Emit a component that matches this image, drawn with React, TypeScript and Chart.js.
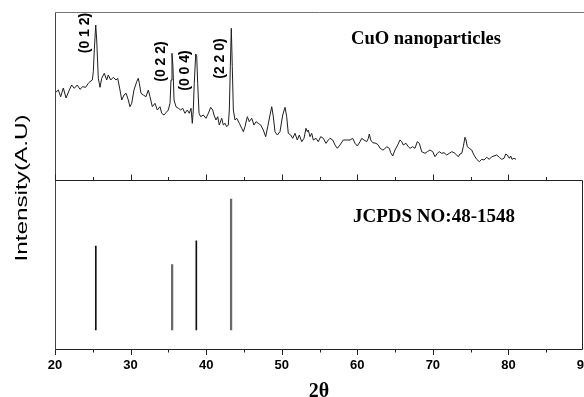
import React, { useEffect, useRef } from 'react';
import { Chart, registerables } from 'chart.js';

Chart.register(...registerables);

// Measured XRD pattern (2θ in degrees, intensity in arbitrary units)
const twoTheta = [
  20.0, 20.44, 20.75, 21.1, 21.46, 21.89, 22.21, 22.55, 22.95, 23.31, 23.67, 24.06, 24.41, 24.63, 24.94,
  25.07, 25.2, 25.39, 25.52, 25.73, 25.96, 26.18, 26.52, 26.84, 27.05, 27.37, 27.72, 28.07, 28.3, 28.6,
  28.83, 29.13, 29.4, 29.7, 29.92, 30.15, 30.45, 30.81, 31.02, 31.16, 31.38, 31.68, 32.04, 32.35, 32.57,
  32.88, 33.23, 33.54, 33.89, 34.12, 34.42, 34.69, 34.99, 35.22, 35.35, 35.48, 35.61, 35.75, 36.01, 36.32,
  36.63, 36.9, 37.2, 37.51, 37.77, 38.0, 38.17, 38.3, 38.43, 38.62, 38.75, 38.88, 39.06, 39.28, 39.62,
  39.98, 40.29, 40.6, 40.87, 41.04, 41.3, 41.53, 41.74, 42.06, 42.27, 42.5, 42.72, 42.93, 43.07, 43.2,
  43.33, 43.46, 43.6, 43.82, 44.05, 44.39, 44.71, 44.92, 45.14, 45.45, 45.71, 46.03, 46.33, 46.6, 46.9,
  47.22, 47.56, 47.88, 48.15, 48.45, 48.68, 48.89, 49.11, 49.42, 49.77, 50.13, 50.44, 50.66, 50.87, 51.19,
  51.45, 51.76, 52.06, 52.33, 52.65, 52.95, 53.21, 53.39, 53.52, 53.74, 53.97, 54.18, 54.54, 54.84, 55.16,
  55.5, 55.86, 56.17, 56.39, 56.75, 57.05, 57.36, 57.71, 58.15, 58.6, 59.04, 59.39, 59.7, 60.01, 60.36,
  60.59, 60.89, 61.25, 61.46, 61.59, 61.78, 62.04, 62.48, 62.78, 63.01, 63.37, 63.58, 63.89, 64.24, 64.42,
  64.69, 64.99, 65.35, 65.65, 65.88, 66.09, 66.45, 66.75, 66.98, 67.33, 67.64, 67.94, 68.21, 68.52, 68.96,
  69.27, 69.62, 69.98, 70.28, 70.59, 70.85, 71.17, 71.48, 71.83, 72.18, 72.49, 72.8, 73.16, 73.37, 73.59,
  73.82, 74.03, 74.25, 74.39, 74.56, 74.82, 75.14, 75.44, 75.8, 76.15, 76.46, 76.77, 77.13, 77.47, 77.79,
  78.09, 78.45, 78.79, 79.11, 79.42, 79.64, 79.85, 80.12, 80.3, 80.47, 80.73, 81.0,
];
const intensity = [
  87, 90, 83.3, 92, 82, 90, 95, 91.7, 95, 90.7, 93.3, 92.7, 96.7, 98.3, 100,
  108.3, 130, 155, 140, 101.7, 92.7, 101.7, 106.7, 100, 105, 100, 102.7, 100, 101.7, 90,
  80, 85, 86.7, 80, 73.3, 76.7, 90, 98.3, 101.7, 96.7, 86.7, 85, 83.3, 90, 83.3,
  73.3, 76.7, 70, 73.3, 66.7, 65, 67.3, 70, 76.7, 100, 126.7, 113.3, 80, 73.3, 71.7,
  70, 71.7, 66.7, 70, 66.7, 71.7, 56.7, 70, 96.7, 126, 124, 96.7, 66.7, 63.3, 65,
  61.7, 66.7, 72.7, 70, 65, 60, 63.3, 55, 61.7, 55, 56.7, 53.3, 55, 70, 113.3,
  151.7, 113.3, 70, 60, 61.7, 56.7, 51.7, 48.3, 53.3, 63.3, 58.3, 61.7, 55, 58.3, 56.7,
  55, 50, 43.3, 53.3, 65, 73.3, 63.3, 48.3, 45, 48.3, 65, 72.7, 63.3, 46.7, 45,
  41.7, 46.7, 40, 45, 38.3, 41.7, 51.7, 48.3, 50, 43.3, 46.7, 40, 41.7, 38.3, 43.3,
  41.7, 36.7, 40, 41.7, 40, 35, 31.7, 35, 40, 40, 40, 41.7, 36.7, 34, 38.3,
  41.7, 40, 38.3, 41.7, 46, 40, 37.3, 36.7, 35, 31.7, 30, 30.7, 33.3, 31.7, 27.3,
  24, 30, 35, 40, 38.3, 35, 36.7, 33.3, 31.7, 33.3, 31.7, 38.3, 36.7, 28.3, 26.7,
  28.3, 30, 28.3, 23.3, 26.7, 28.3, 26.7, 27.3, 25, 26.7, 28.3, 27.3, 25, 23.3, 26,
  26.7, 33.3, 42.7, 40, 33.3, 31.7, 30, 25, 20.7, 18.3, 20.7, 20, 22.7, 20.7, 23.3,
  24, 25, 22.7, 20.7, 21.7, 26, 25, 21.7, 24, 20.7, 21.7, 20.7,
];

// JCPDS 48-1548 reference lines (black-drawn and grey-drawn sticks)
const refTwoThetaDark = [25.4, 38.7];
const refIntensityDark = [64, 68];
const refTwoThetaGrey = [35.5, 43.3];
const refIntensityGrey = [50, 100];

// Peak (hkl) annotations
const peakLabels = ['(0 1 2)', '(0 2 2)', '(0 0 4)', '(2 2 0)'];
const peakTwoTheta = [25.39, 35.48, 38.62, 43.33];
const peakLabelLevel = [147, 118.5, 109.5, 121.5];

const xTickValues = [20, 25, 30, 35, 40, 45, 50, 55, 60, 65, 70, 75, 80, 85, 90];
const xTickLabels = ['20', '30', '40', '50', '60', '70', '80', '90'];

const topTitle = 'CuO nanoparticles';
const bottomTitle = 'JCPDS NO:48-1548';
const yTitle = 'Intensity(A.U)';
const xTitle = '2θ';

function fittedText(ctx: CanvasRenderingContext2D, text: string, x: number, y: number, width: number, font: string) {
  ctx.save();
  ctx.font = font;
  const w = ctx.measureText(text).width;
  ctx.translate(x, y);
  ctx.scale(width / w, 1);
  ctx.textAlign = 'left';
  ctx.textBaseline = 'alphabetic';
  ctx.fillText(text, 0, 0);
  ctx.restore();
}

const decorations = {
  id: 'decorations',
  afterDraw(chart: any) {
    const ctx: CanvasRenderingContext2D = chart.ctx;
    const xs = chart.scales.x;
    const yTop = chart.scales.yTop;
    const { left, top, right, bottom } = chart.chartArea;
    const divY = Math.round(yTop.getPixelForValue(0)) + 0.5;
    const L = Math.round(left) + 0.5;
    const T = Math.round(top) + 0.5;
    const B = Math.round(bottom) - 0.5;
    const R = Math.round(right) - 1.5;
    ctx.save();
    ctx.lineWidth = 1;
    // frame
    ctx.strokeStyle = '#777';
    ctx.beginPath();
    ctx.moveTo(L, T); ctx.lineTo(right, T);
    ctx.stroke();
    ctx.strokeStyle = '#444';
    ctx.beginPath();
    ctx.moveTo(L, T); ctx.lineTo(L, B);
    ctx.stroke();
    ctx.strokeStyle = '#222';
    ctx.beginPath();
    ctx.moveTo(L, divY); ctx.lineTo(R, divY);
    ctx.moveTo(L, B); ctx.lineTo(R, B);
    ctx.moveTo(R, divY); ctx.lineTo(R, B);
    ctx.stroke();
    // ticks
    ctx.strokeStyle = '#222';
    ctx.beginPath();
    xTickValues.forEach((v) => {
      const px = Math.round(xs.getPixelForValue(v)) + 0.5;
      const major = v % 10 === 0;
      ctx.moveTo(px, divY); ctx.lineTo(px, divY - (major ? 6 : 3.5));
      ctx.moveTo(px, B); ctx.lineTo(px, B + (major ? 5.5 : 3));
    });
    ctx.stroke();
    // tick labels
    ctx.fillStyle = '#000';
    ctx.font = 'bold 13px "Liberation Sans", Arial, sans-serif';
    ctx.textAlign = 'center';
    ctx.textBaseline = 'middle';
    xTickLabels.forEach((t) => {
      const px = xs.getPixelForValue(Number(t));
      ctx.fillText(t, px, 365);
    });
    // x title
    ctx.font = 'bold 20px "Liberation Serif", "Times New Roman", serif';
    ctx.textAlign = 'center';
    ctx.textBaseline = 'alphabetic';
    ctx.fillText(xTitle, 319, 397);
    // y title
    ctx.save();
    ctx.font = '17px "Liberation Sans", Arial, sans-serif';
    const yw = ctx.measureText(yTitle).width;
    ctx.translate(22, 188);
    ctx.rotate(-Math.PI / 2);
    ctx.scale(147 / yw, 1);
    ctx.textAlign = 'center';
    ctx.textBaseline = 'middle';
    ctx.fillText(yTitle, 0, 0);
    ctx.restore();
    // panel titles
    fittedText(ctx, topTitle, 351, 44, 150, 'bold 18px "Liberation Serif", "Times New Roman", serif');
    fittedText(ctx, bottomTitle, 353, 222, 162, 'bold 19px "Liberation Serif", "Times New Roman", serif');
    // peak labels
    ctx.font = 'bold 14px "Liberation Sans", Arial, sans-serif';
    peakLabels.forEach((lab, i) => {
      const px = xs.getPixelForValue(peakTwoTheta[i]) - 11;
      const py = yTop.getPixelForValue(peakLabelLevel[i]);
      ctx.save();
      ctx.translate(px, py);
      ctx.rotate(-Math.PI / 2);
      ctx.textAlign = 'center';
      ctx.textBaseline = 'middle';
      ctx.fillText(lab, 0, 0);
      ctx.restore();
    });
    ctx.restore();
  },
};

export default function App() {
  const ref = useRef<HTMLCanvasElement | null>(null);
  useEffect(() => {
    if (!ref.current) return;
    const chart = new Chart(ref.current, {
      type: 'line',
      data: {
        datasets: [
          {
            type: 'line',
            data: twoTheta.map((x, i) => ({ x, y: intensity[i] })),
            borderColor: '#1e1e1e',
            borderWidth: 1,
            pointRadius: 0,
            tension: 0,
            fill: false,
            xAxisID: 'x',
            yAxisID: 'yTop',
          },
          {
            type: 'bar',
            data: refTwoThetaDark.map((x, i) => ({ x, y: refIntensityDark[i] })),
            backgroundColor: '#111111',
            borderWidth: 0,
            barThickness: 1,
            grouped: false,
            xAxisID: 'x',
            yAxisID: 'yBot',
          } as any,
          {
            type: 'bar',
            data: refTwoThetaGrey.map((x, i) => ({ x, y: refIntensityGrey[i] })),
            backgroundColor: '#6a6a6a',
            borderWidth: 0,
            barThickness: 1.6,
            grouped: false,
            xAxisID: 'x',
            yAxisID: 'yBot',
          } as any,
        ],
      },
      options: {
        animation: false,
        responsive: false,
        devicePixelRatio: 1,
        events: [],
        layout: { padding: { left: 55, top: 12, right: 0, bottom: 47.5 } },
        plugins: { legend: { display: false }, tooltip: { enabled: false } },
        scales: {
          x: { type: 'linear', min: 20, max: 90, offset: false, display: false },
          yTop: { type: 'linear', position: 'left', min: -169.5, max: 168, display: false },
          yBot: { type: 'linear', position: 'left', min: -14.9, max: 242.7, display: false },
        },
      } as any,
      plugins: [decorations],
    });
    return () => chart.destroy();
  }, []);
  return (
    <div style={{ position: 'fixed', left: 0, top: 0, width: 584, height: 397, background: '#fff' }}>
      <canvas ref={ref} width={584} height={397} style={{ display: 'block' }} />
    </div>
  );
}
